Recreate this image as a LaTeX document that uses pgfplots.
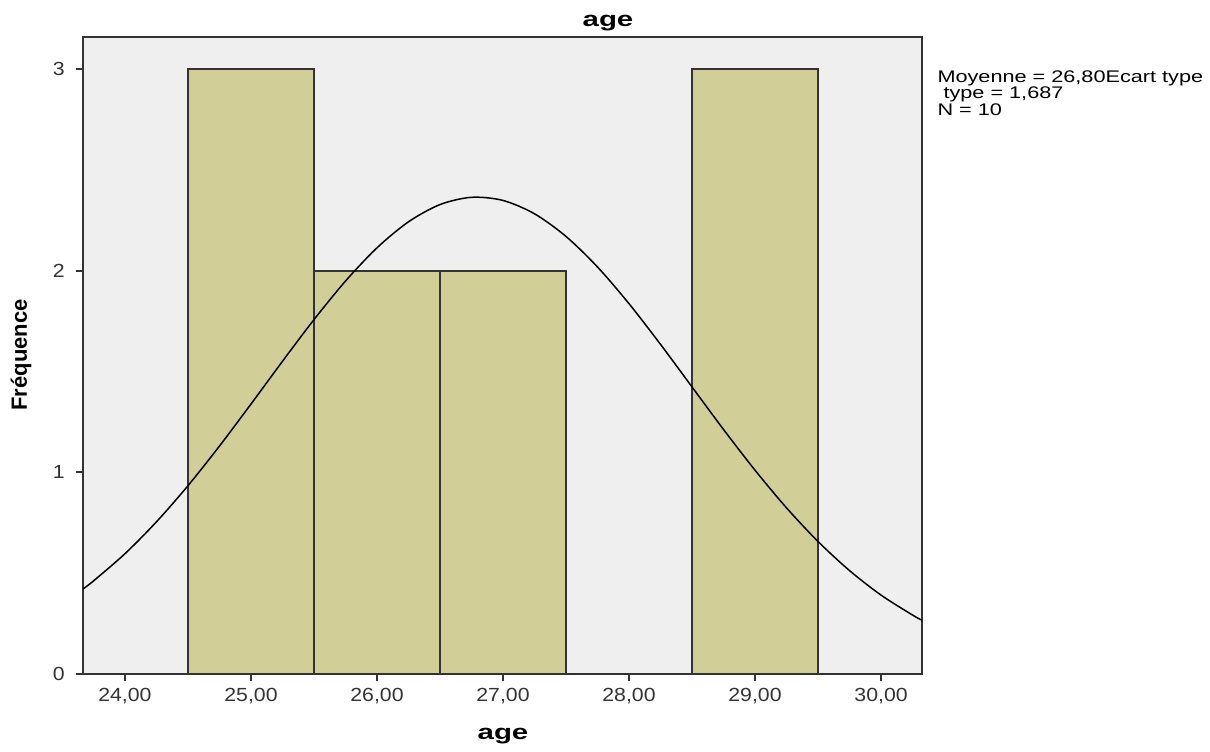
\documentclass[border=0pt]{standalone}
\usepackage{pgfplots}
\pgfplotsset{compat=1.18}
\usepackage{fontspec}
\setmainfont{Liberation Sans}
\definecolor{bg}{HTML}{EFEFEF}
\definecolor{barc}{HTML}{D2CE98}
\definecolor{axc}{HTML}{333333}
\begin{document}
\begin{tikzpicture}
\begin{axis}[
  scale only axis,
  width=419.5pt, height=318.5pt,
  xmin=23.667, xmax=30.325,
  ymin=0, ymax=3.159,
  axis background/.style={fill=bg},
  axis line style={axc, line width=1pt},
  xtick={24,25,26,27,28,29,30},
  xticklabels={{24,00},{25,00},{26,00},{27,00},{28,00},{29,00},{30,00}},
  ytick={0,1,2,3},
  tick align=outside,
  major tick length=3.5pt,
  tick style={axc, line width=1pt},
  xtick pos=bottom, ytick pos=left,
  ticklabel style={font=\fontsize{9.5}{11}\selectfont, text=axc, xscale=1.12},
  /pgf/number format/assume math mode=true,
  xticklabel style={yshift=0pt},
  yticklabel style={xshift=-1.5pt},
  clip=true,
]
\addplot[ybar interval, fill=barc, draw=axc, line width=0.9pt] coordinates {
  (24.5,3) (25.5,2) (26.5,2) (27.5,0) (28.5,3) (29.5,3)
};
\addplot[black, line width=0.75pt, smooth, no marks] coordinates {
  (23.667,0.4217) (23.75,0.4614) (24,0.5965) (24.25,0.7547) (24.5,0.9337)
  (24.75,1.1303) (25,1.3386) (25.25,1.5507) (25.5,1.7574) (25.75,1.9485)
  (26,2.1134) (26.25,2.2425) (26.5,2.3279) (26.75,2.364) (27,2.3484)
  (27.25,2.2822) (27.5,2.1699) (27.75,2.0183) (28,1.8364) (28.25,1.6347)
  (28.5,1.4235) (28.75,1.2125) (29,1.0106) (29.25,0.8237) (29.5,0.6570)
  (29.75,0.5127) (30,0.3912) (30.25,0.2923) (30.325,0.2666)
};
\end{axis}
\node[anchor=base, xscale=1.4, font=\fontsize{10.5}{12}\selectfont\bfseries] at (262.5pt,323.5pt) {age};
\node[anchor=base, xscale=1.4, font=\fontsize{10.5}{12}\selectfont\bfseries] at (210pt,-33pt) {age};
\node[rotate=90, font=\fontsize{11}{13}\selectfont\bfseries] at (-31pt,159.5pt) {Fréquence};
\node[anchor=north west, align=left, inner sep=0pt, xscale=1.29, font=\fontsize{8.4}{8.25}\selectfont] at (427pt,302pt)
  {Moyenne = 26,80Ecart type\\ \ type = 1,687\\N = 10};
\path[use as bounding box] (-41.5pt,-38.5pt) rectangle (563.5pt,337pt);
\end{tikzpicture}
\end{document}
